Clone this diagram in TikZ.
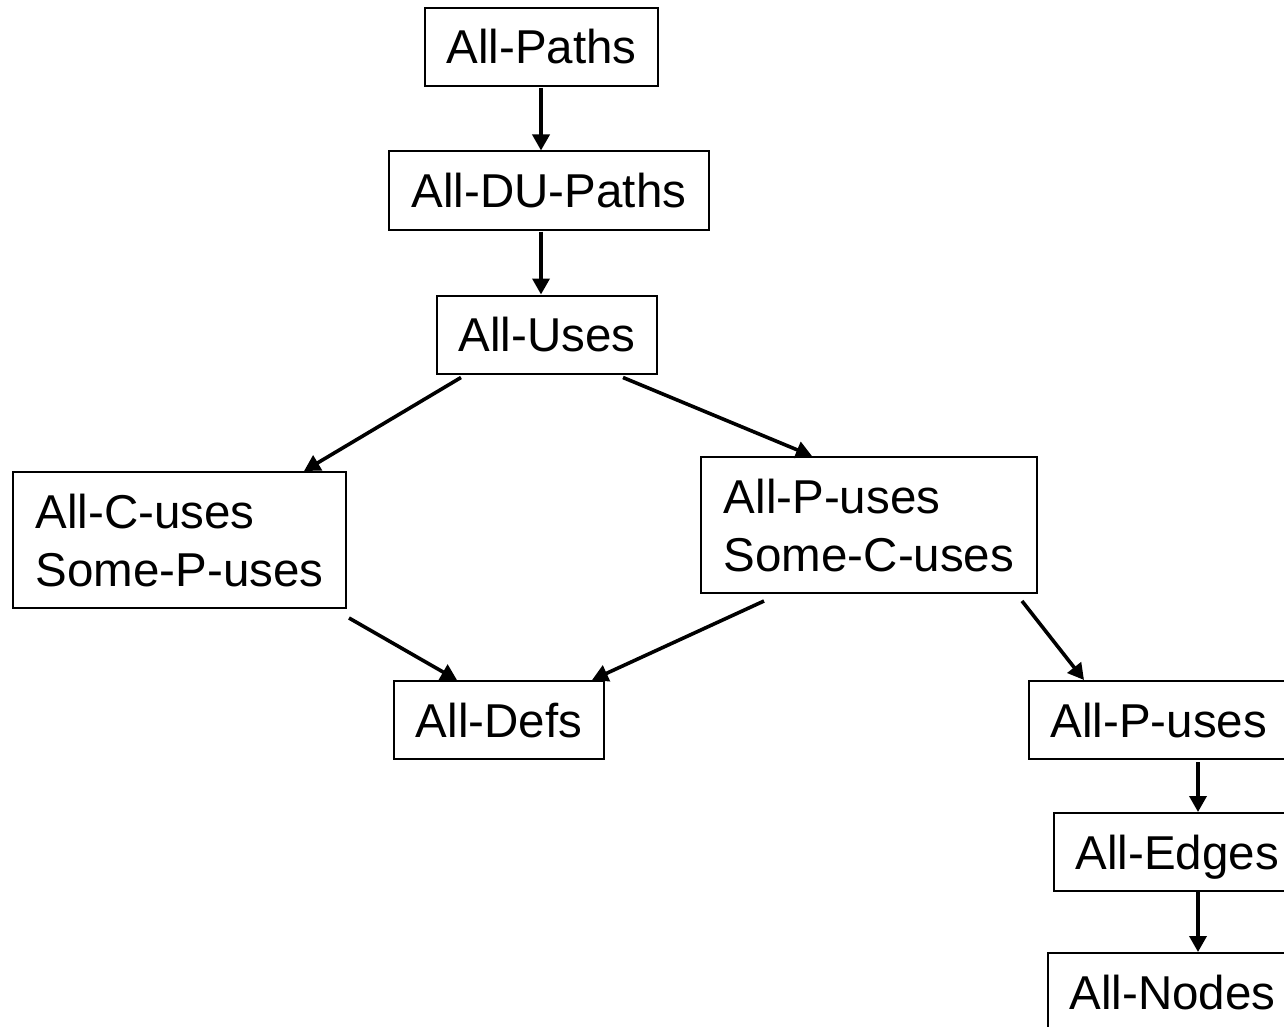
\documentclass[tikz,border=0pt]{standalone}
\usepackage{fontspec}
\setmainfont{Liberation Sans}
\usetikzlibrary{arrows.meta}
\begin{document}
\begin{tikzpicture}[x=1pt,y=-1pt,
  box/.style={draw, line width=2pt, font=\fontsize{47.5pt}{58pt}\selectfont,
    inner xsep=21.5pt, inner ysep=0pt, minimum height=78pt,
    text height=34pt, text depth=0pt},
  twobox/.style={box, minimum height=136pt, text height=92pt},
  arr/.style={line width=3.6pt, -{Triangle[length=16pt,width=17pt]}}]
\useasboundingbox (0,0) rectangle (1284,1027);
\node[box, minimum width=233pt] (paths) at (541.5,47) {All-Paths};
\node[box, minimum width=320pt] (du) at (549,190.5) {All-DU-Paths};
\node[box, minimum width=220pt] (uses) at (547,334.5) {All-Uses};
\node[twobox, minimum width=333pt] (cuses) at (179.5,540)
  {\vbox{\baselineskip=58pt\hbox{All-C-uses}\hbox{Some-P-uses}}};
\node[twobox, minimum width=336pt] (puses2) at (869,525)
  {\vbox{\baselineskip=58pt\hbox{All-P-uses}\hbox{Some-C-uses}}};
\node[box, minimum width=210pt] (defs) at (499,720) {All-Defs};
\node[box, anchor=west] (puses) at (1028,720) {All-P-uses};
\node[box, anchor=west] (edges) at (1053,852) {All-Edges};
\node[box, anchor=west] (allnodes) at (1047,992) {All-Nodes};

\coordinate (a1) at ([xshift=541pt]0,0);
\draw[arr] ([yshift=-1pt]paths.south -| a1) -- (du.north -| a1);
\draw[arr] ([yshift=-1pt]du.south -| a1) -- (uses.north -| a1);
\draw[arr] ([xshift=25pt,yshift=-3pt]uses.south west) -- ([xshift=-43pt]cuses.north east);
\draw[arr] ([xshift=-35pt,yshift=-3pt]uses.south east) -- ([xshift=112pt]puses2.north west);
\draw[arr] ([xshift=2pt,yshift=-9pt]cuses.south east) -- ([xshift=64pt]defs.north west);
\draw[arr] ([xshift=64pt,yshift=-7pt]puses2.south west) -- ([xshift=-13pt]defs.north east);
\draw[arr] ([xshift=-16pt,yshift=-7pt]puses2.south east) -- ([xshift=56pt]puses.north west);
\coordinate (a2) at ([xshift=170pt]puses.south west);
\draw[arr] ([yshift=-2pt]a2) -- (a2 |- edges.north);
\draw[arr] (a2 |- edges.south) -- (a2 |- allnodes.north);
\end{tikzpicture}
\end{document}
